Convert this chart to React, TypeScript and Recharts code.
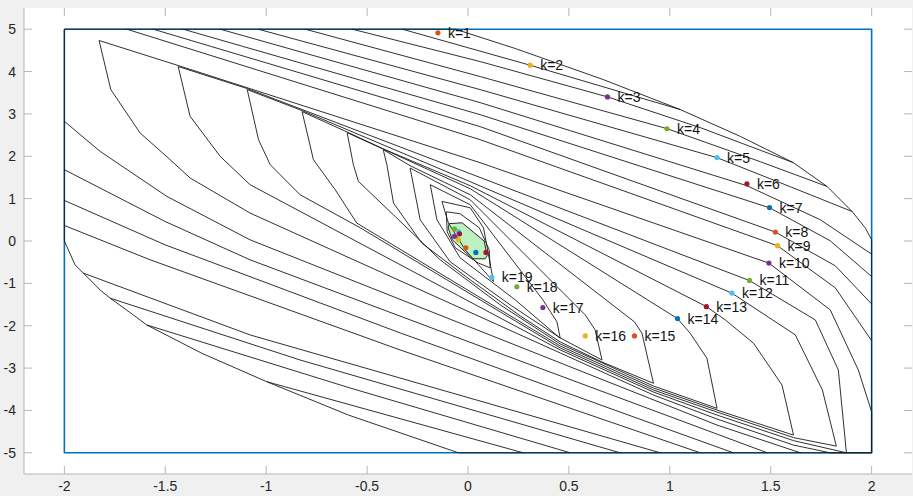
import { ScatterChart, Scatter, XAxis, YAxis, CartesianGrid } from 'recharts';

type Pt = { x: number; y: number };
const P = (pairs: number[][]): Pt[] => pairs.map(([x, y]) => ({ x, y }));

const xTicks = [-2, -1.5, -1, -0.5, 0, 0.5, 1, 1.5, 2];
const yTicks = [-5, -4, -3, -2, -1, 0, 1, 2, 3, 4, 5];

const box = P([[-2, 5], [2, 5], [2, -5], [-2, -5], [-2, 5]]);

// terminal set (filled green)
const terminal = P([
  [-0.093, 0.41], [-0.029, 0.43], [0.08, 0.0], [0.095, -0.35], [0.085, -0.42],
  [0.021, -0.42], [-0.078, 0.03], [-0.098, 0.31], [-0.093, 0.41],
]);

// outermost set
const set1 = P([
  [-2, 5], [-0.063, 5], [0.234, 4.544], [0.67, 3.811], [1.052, 3.102], [1.349, 2.47],
  [1.612, 1.849], [1.779, 1.288], [1.903, 0.697], [1.969, 0.305], [2, 0.028], [2, -5],
  [-0.047, -5], [-0.592, -4.109], [-0.997, -3.322], [-1.319, -2.65], [-1.592, -1.981],
  [-1.658, -1.745], [-1.773, -1.35], [-1.823, -1.154], [-1.906, -0.759], [-1.947, -0.563],
  [-2, 0], [-2, 5],
]);

// upper-right edges of the big sets
const upper2 = P([[-0.326, 5], [0.308, 4.149], [1.052, 3.102]]);
const upper3 = P([[-0.574, 5], [0.06, 4.236], [0.691, 3.402], [1.151, 2.676], [1.612, 1.849]]);
const upper4 = P([[-0.807, 5], [0.06, 3.882], [0.986, 2.652], [1.448, 1.872], [1.779, 1.288]]);
const upper5 = P([[-1.04, 5], [0.06, 3.574], [1.234, 1.967], [1.597, 1.281], [1.903, 0.697]]);
const upper6 = P([[-1.228, 5], [0.06, 3.267], [1.382, 1.305], [1.746, 0.501], [2, -0.31]]);
const upper7 = P([[-1.412, 5], [0.06, 2.983], [1.494, 0.785], [1.795, 0.005], [2, -0.839]]);
const upper8 = P([[-1.56, 5], [0.06, 2.7], [1.523, 0.21], [1.82, -0.586], [2, -1.485]]);
const upper9 = P([[-1.691, 5], [0.06, 2.392], [1.534, -0.113], [1.82, -1.106], [2, -2.352]]);

// lower-left edges of the big sets
const lower2 = P([[-0.997, -3.322], [0.274, -5]]);
const lower3 = P([[-1.592, -1.981], [-0.584, -3.47], [0.507, -5]]);
const lower4 = P([[-1.773, -1.35], [-0.832, -2.809], [0.754, -5]]);
const lower5 = P([[-1.906, -0.759], [-1.08, -2.217], [0.953, -5]]);
const lower6 = P([[-2, 0.366], [-1.575, -0.444], [-0.336, -2.572], [1.151, -5]]);
const lower7 = P([[-2, 0.957], [-1.501, -0.09], [-0.336, -2.17], [1.315, -5]]);
const lower8 = P([[-2, 1.683], [-1.501, 0.461], [-1.08, -0.444], [-0.088, -2.217], [1.483, -5]]);
const lower9 = P([[-2, 2.825], [-1.823, 2.116], [-1.492, 1.052], [-1.08, 0.028], [0.358, -2.69], [1.234, -4.345], [1.647, -5]]);

// leaf-shaped sets, closed
const set10 = P([
  [-1.828, 4.733], [-1.436, 4.142], [0.06, 1.849], [1.491, -0.522], [1.795, -1.626], [1.934, -3.045],
  [2, -4.031], [2, -5], [1.795, -5], [1.613, -4.818], [1.234, -4.203], [0.919, -3.636], [0.457, -2.643],
  [-1.08, 0.66], [-1.377, 1.487], [-1.476, 1.92], [-1.625, 2.551], [-1.77, 3.574], [-1.828, 4.733],
]);
const set11 = P([
  [-1.436, 4.118], [-1.094, 3.598], [0.011, 1.589], [1.395, -0.934], [1.721, -1.863], [1.835, -3.045],
  [1.875, -5], [1.613, -4.712], [1.234, -4.109], [0.919, -3.565], [0.457, -2.572], [-1.08, 1.329],
  [-1.228, 1.998], [-1.377, 2.943], [-1.436, 4.118],
]);
const set12 = P([
  [-1.094, 3.574], [-0.822, 3.078], [0.011, 1.4], [1.308, -1.232], [1.622, -2.217], [1.756, -3.518],
  [1.825, -4.842], [1.613, -4.641], [1.234, -4.038], [0.919, -3.518], [0.457, -2.525], [-0.534, 0.312],
  [-0.832, 1.092], [-0.98, 1.801], [-1.038, 2.392], [-1.094, 3.574],
]);
const set13 = P([
  [-0.822, 3.054], [-0.599, 2.572], [-0.42, 2.175], [0.011, 1.305], [1.181, -1.548], [1.275, -1.863],
  [1.415, -2.414], [1.556, -3.4], [1.613, -4.582], [1.234, -3.991], [0.919, -3.47], [0.457, -2.478],
  [-0.551, 0.423], [-0.658, 1.21], [-0.766, 1.92], [-0.822, 3.054],
]);
const set14 = P([
  [-0.599, 2.558], [-0.42, 2.17], [0.011, 1.234], [1.038, -1.832], [1.101, -2.177], [1.184, -2.768],
  [1.234, -3.95], [0.919, -3.423], [0.457, -2.43], [0.16, -1.508], [-0.138, -0.444], [-0.361, 0.579],
  [-0.543, 1.407], [-0.568, 1.801], [-0.599, 2.558],
]);
const set15 = P([
  [-0.42, 2.156], [-0.287, 1.778], [0.011, 1.092], [0.825, -1.91], [0.862, -2.177], [0.919, -3.359],
  [0.664, -2.856], [0.457, -2.383], [0.259, -1.768], [0.011, -0.917], [-0.229, -0.05], [-0.369, 0.896],
  [-0.402, 1.801], [-0.42, 2.156],
]);
const set16 = P([
  [-0.287, 1.723], [0.011, 0.974], [0.581, -1.745], [0.63, -2.099], [0.664, -2.809], [0.457, -2.288],
  [0.209, -1.508], [-0.088, -0.492], [-0.237, 0.501], [-0.287, 1.723],
]);
const set17 = P([
  [-0.187, 1.329], [0.011, 0.856], [0.371, -1.39], [0.441, -1.91], [0.457, -2.296], [0.234, -1.39],
  [-0.039, -0.397], [-0.154, 0.501], [-0.187, 1.329],
]);
const set18 = P([
  [-0.129, 0.934], [0.011, 0.785], [0.077, 0.312], [0.126, -0.957], [-0.014, -0.208], [-0.097, 0.423],
  [-0.129, 0.934],
]);
const set19 = P([
  [-0.108, 0.69], [-0.039, 0.643], [0.056, 0.312], [0.105, -0.208], [0.11, -0.634], [0.051, -0.52],
  [-0.063, -0.161], [-0.103, 0.218], [-0.108, 0.69],
]);

const trajX = [-0.149, 0.308, 0.691, 0.986, 1.234, 1.382, 1.494, 1.523, 1.534, 1.491, 1.395, 1.308, 1.181, 1.038, 0.825, 0.581, 0.371, 0.242, 0.118, 0.089, 0.039, -0.011, -0.047, -0.067, -0.067, -0.047, -0.042];
const trajY = [4.915, 4.15, 3.4, 2.65, 1.97, 1.35, 0.79, 0.21, -0.11, -0.52, -0.93, -1.23, -1.55, -1.83, -2.24, -2.24, -1.57, -1.08, -0.86, -0.27, -0.27, -0.16, 0.03, 0.11, 0.28, 0.22, 0.17];
const palette = ['#0072BD', '#D95319', '#EDB120', '#7E2F8E', '#77AC30', '#4DBEEE', '#A2142F'];
const labelled = 19;

const traj = trajX.map((x, i) => ({ x, y: trajY[i], k: i + 1 }));
const blackLines: Pt[][] = [
  set1, upper2, upper3, upper4, upper5, upper6, upper7, upper8, upper9,
  lower2, lower3, lower4, lower5, lower6, lower7, lower8, lower9,
  set10, set11, set12, set13, set14, set15, set16, set17, set18, set19,
];

const FONT = 'Liberation Sans, Arial, Helvetica, sans-serif';
const AX = { left: 24, right: 912, top: 8, bottom: 474 };

const polyPath = (fill: string, stroke: string, w: number) => (p: any) => {
  const pts: { x: number; y: number }[] = p.points || [];
  if (!pts.length) return <g />;
  const d = pts.map((q, i) => `${i ? 'L' : 'M'}${q.x},${q.y}`).join(' ');
  return <path d={d} fill={fill} stroke={stroke} strokeWidth={w} strokeLinejoin="round" />;
};

const TrajDot = (p: any) => {
  const k = p.payload.k;
  const c = palette[k % 7];
  return (
    <g>
      <circle cx={p.cx} cy={p.cy} r={2.6} fill={c} />
      {k <= labelled && (
        <text x={p.cx + 10} y={p.cy + 5} fontSize={14} fill="#111" fontFamily={FONT}>
          {`k=${k}`}
        </text>
      )}
    </g>
  );
};

const XTick = (p: any) => (
  <g>
    <line x1={p.x} x2={p.x} y1={AX.bottom} y2={AX.bottom - 8} stroke="#b5b5b5" />
    <line x1={p.x} x2={p.x} y1={AX.top} y2={AX.top + 8} stroke="#b5b5b5" />
    <text x={p.x} y={AX.bottom + 17} textAnchor="middle" fontSize={14} fill="#262626" fontFamily={FONT}>
      {String(p.payload.value)}
    </text>
  </g>
);

const YTick = (p: any) => (
  <g>
    <line x1={AX.left} x2={AX.left + 8} y1={p.y} y2={p.y} stroke="#b5b5b5" />
    <line x1={AX.right} x2={AX.right - 8} y1={p.y} y2={p.y} stroke="#b5b5b5" />
    <text x={AX.left - 8} y={p.y + 5} textAnchor="end" fontSize={14} fill="#262626" fontFamily={FONT}>
      {String(p.payload.value)}
    </text>
  </g>
);

if (typeof document !== 'undefined') document.body.style.margin = '0';

export default function App() {
  return (
    <div style={{ width: 913, height: 496, background: '#f0f0f0' }}>
      <ScatterChart width={913} height={496} margin={{ top: 8, right: 1, bottom: 0, left: 0 }}>
        <rect x={AX.left} y={AX.top} width={AX.right - AX.left} height={AX.bottom - AX.top} fill="#ffffff" />
        <CartesianGrid stroke="#ececec" horizontalValues={yTicks} verticalValues={xTicks} />
        <XAxis
          type="number" dataKey="x" domain={[-2.2, 2.2]} ticks={xTicks} allowDataOverflow
          stroke="#b5b5b5" height={22} tickLine={false} tick={XTick}
        />
        <YAxis
          type="number" dataKey="y" domain={[-5.5, 5.5]} ticks={yTicks} allowDataOverflow
          stroke="#b5b5b5" width={24} tickLine={false} tick={YTick}
        />
        <XAxis xAxisId="top" orientation="top" type="number" dataKey="x" domain={[-2.2, 2.2]} stroke="#b5b5b5" tick={false} tickLine={false} height={0} />
        <YAxis yAxisId="right" orientation="right" type="number" dataKey="y" domain={[-5.5, 5.5]} stroke="#b5b5b5" tick={false} tickLine={false} width={0} />
        <Scatter data={terminal} line={polyPath('#bdf2c0', '#111', 0.9)} shape={() => <g />} isAnimationActive={false} />
        <Scatter data={box} line={polyPath('none', '#0072BD', 1.6)} shape={() => <g />} isAnimationActive={false} />
        {blackLines.map((l, i) => (
          <Scatter key={i} data={l} line={polyPath('none', '#1a1a1a', 0.9)} shape={() => <g />} isAnimationActive={false} />
        ))}
        <Scatter data={traj} shape={TrajDot} isAnimationActive={false} />
      </ScatterChart>
    </div>
  );
}
